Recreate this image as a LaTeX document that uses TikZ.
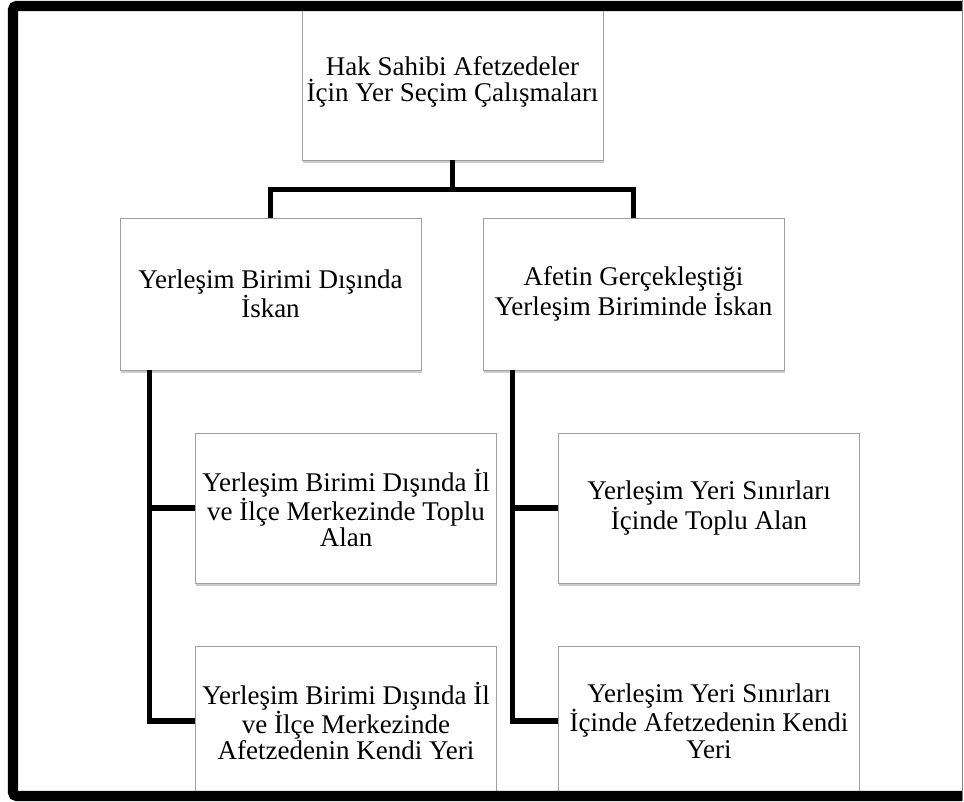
\documentclass[tikz,border=0pt]{standalone}
\usepackage{fontspec}
\setmainfont{Liberation Serif}
\usetikzlibrary{calc,shadows}
\tikzset{
  box/.style={draw=gray!75, line width=0.5pt, fill=white, align=center,
    minimum width=7.525cm, minimum height=3.8cm, inner sep=0pt,
    font=\fontsize{19.2}{18.6}\selectfont,
    drop shadow={shadow xshift=0.6pt, shadow yshift=-2.2pt, opacity=0.4}},
  link/.style={line width=0.13cm, line cap=butt, line join=miter},
  trunk offset/.store in=\TrunkOff,
  trunk offset=30
}

\begin{document}
\begin{tikzpicture}[x=0.025cm, y=-0.025cm]

  \fill[white] (0,0) rectangle (964,801);
  \useasboundingbox (0,0) rectangle (964,801);

  % boxes
  \node[box, minimum height=3.9cm] (hak) at (452.5,82) {Hak Sahibi Afetzedeler\\İçin Yer Seçim Çalışmaları};

  \node[box] (disinda) at (270.5,294) {Yerleşim Birimi Dışında\\İskan};
  \node[box] (yerinde) at (633.5,294) {Afetin Gerçekleştiği\\Yerleşim Biriminde İskan};

  \node[box, minimum height=3.75cm] (disToplu) at (346,508) {Yerleşim Birimi Dışında İl\\ve İlçe Merkezinde Toplu\\Alan};
  \node[box, minimum height=3.75cm] (disKendi) at (346,721) {Yerleşim Birimi Dışında İl\\ve İlçe Merkezinde\\Afetzedenin Kendi Yeri};

  \node[box, minimum height=3.75cm] (yerToplu) at (709,508) {Yerleşim Yeri Sınırları\\İçinde Toplu Alan};
  \node[box, minimum height=3.75cm] (yerKendi) at (709,721) {Yerleşim Yeri Sınırları\\İçinde Afetzedenin Kendi\\Yeri};

  % connectors
  \draw[link] (hak.south) -- ++(0,29) -| (disinda.north);
  \draw[link] (hak.south) -- ++(0,29) -| (yerinde.north);

  \coordinate (disTrunk) at ($(disinda.south west)+(\TrunkOff,0)$);
  \coordinate (yerTrunk) at ($(yerinde.south west)+(\TrunkOff,0)$);

  \draw[link] (disTrunk) |- (disToplu.west);
  \draw[link] (disTrunk) |- (disKendi.west);
  \draw[link] (yerTrunk) |- (yerToplu.west);
  \draw[link] (yerTrunk) |- (yerKendi.west);

  % frame
  \draw[line width=0.26cm, rounded corners=0.1cm] (962,6) -- (13,6) -- (13,796) -- (962,796);
  \draw[gray, line width=0.5pt] (962.5,0) -- (962.5,801);

\end{tikzpicture}
\end{document}
